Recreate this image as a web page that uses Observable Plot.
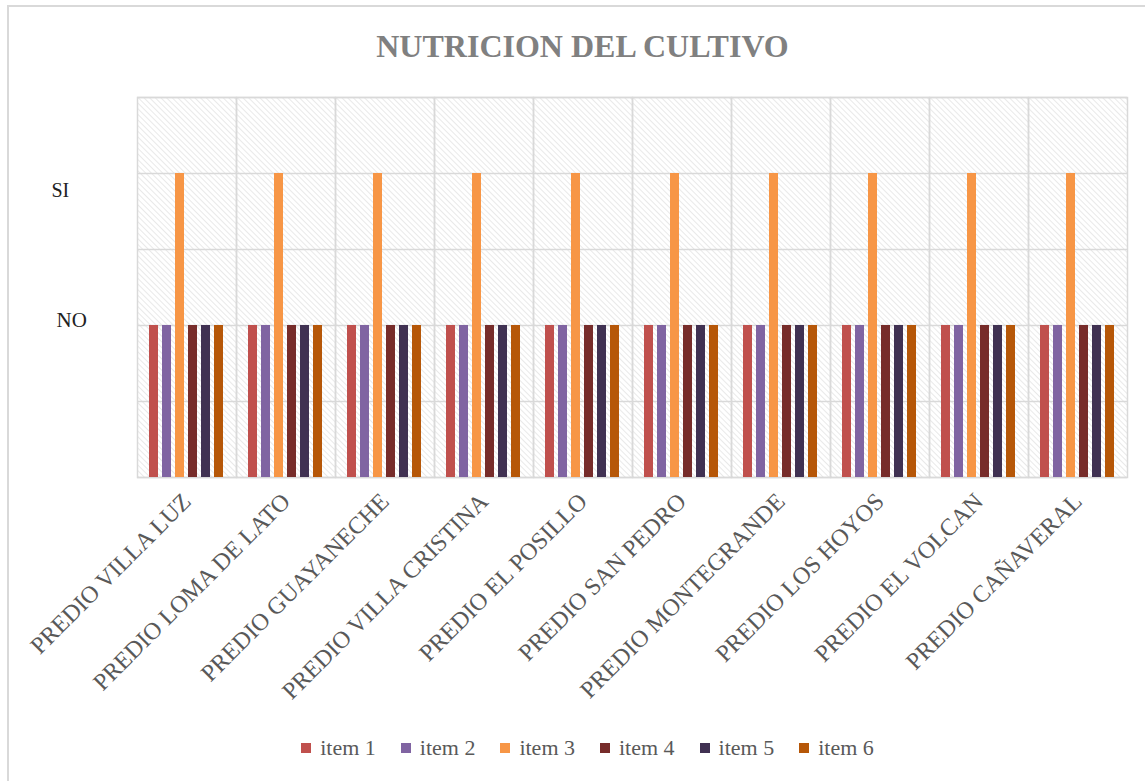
<!DOCTYPE html>
<html><head><meta charset="utf-8">
<script src="https://cdn.jsdelivr.net/npm/d3@7"></script>
<script src="https://cdn.jsdelivr.net/npm/@observablehq/plot@0.6"></script>
<style>
body{margin:0;background:#fff;font-family:"Liberation Serif",serif;overflow:hidden;}
#frame{position:absolute;left:7px;top:5px;width:1170px;height:820px;border-left:2px solid #d9d9d9;border-top:2px solid #d9d9d9;pointer-events:none;}
#wrap{position:absolute;left:0;top:0;width:1145px;}
#title{height:52px;padding-top:28px;font-family:"Liberation Serif",serif;font-size:32px;line-height:36px;font-weight:bold;color:#808080;text-align:center;padding-left:20px;box-sizing:content-box;}
#legend{height:56px;display:flex;justify-content:center;align-items:center;padding-left:30px;font-family:"Liberation Serif",serif;font-size:22px;color:#595959;}
.lg{display:flex;align-items:center;margin:0 12.5px;}
.sw{width:10px;height:10px;margin-right:9px;}
svg{display:block;}
</style></head>
<body>
<div id="wrap">
<div id="title">NUTRICION DEL CULTIVO</div>
<div id="chart"></div>
<div id="legend"></div>
</div>
<div id="frame"></div>
<script>
const categories = ["PREDIO VILLA LUZ","PREDIO LOMA DE LATO","PREDIO GUAYANECHE","PREDIO VILLA CRISTINA","PREDIO EL POSILLO","PREDIO SAN PEDRO","PREDIO MONTEGRANDE","PREDIO LOS HOYOS","PREDIO EL VOLCAN","PREDIO CAÑAVERAL"];
const items = ["item 1","item 2","item 3","item 4","item 5","item 6"];
const colors = ["#c0504d","#8064a2","#f79646","#772c2a","#403152","#b65708"];
// values per item (same for every predio): 1 = NO, 2 = SI
const item1 = [1,1,1,1,1,1,1,1,1,1];
const item2 = [1,1,1,1,1,1,1,1,1,1];
const item3 = [2,2,2,2,2,2,2,2,2,2];
const item4 = [1,1,1,1,1,1,1,1,1,1];
const item5 = [1,1,1,1,1,1,1,1,1,1];
const item6 = [1,1,1,1,1,1,1,1,1,1];
const yTicks = [0,0.5,1,1.5,2,2.5];

const series = [item1,item2,item3,item4,item5,item6];
const data = [];
categories.forEach((c,i)=>series.forEach((s,j)=>data.push({cat:c,item:items[j],value:s[i]})));

const font = '"Liberation Serif",serif';
const chart = Plot.plot({
  width:1145, height:640,
  marginTop:17, marginBottom:243, marginLeft:136, marginRight:18,
  style:{fontFamily:font, background:"transparent"},
  fx:{domain:categories, padding:0, label:null},
  x:{domain:items, paddingInner:0.3, paddingOuter:0.93, axis:null},
  y:{domain:[0,2.5], axis:null, label:null},
  color:{domain:items, range:colors},
  marks:[
    Plot.frame({fill:"url(#hatch)", stroke:"none"}),
    Plot.gridY(yTicks,{stroke:"#d9d9d9", strokeOpacity:1, strokeWidth:1.5}),
    Plot.frame({stroke:"#d9d9d9", strokeWidth:1.5}),
    Plot.barY(data,{fx:"cat", x:"item", y:"value", fill:"item"}),
    Plot.axisFx({anchor:"bottom", tickSize:0, tickRotate:-45, fontSize:24, fill:"#595959", label:null, tickPadding:20}),
    Plot.axisY([2],{tickSize:0, tickFormat:()=>"SI", textAnchor:"start", dx:-77, dy:17, fontSize:20, fill:"#222", label:null}),
    Plot.axisY([1],{tickSize:0, tickFormat:()=>"NO", textAnchor:"start", dx:-72, dy:-5, fontSize:21, fill:"#222", label:null})
  ]
});
const ns = "http://www.w3.org/2000/svg";
const defs = document.createElementNS(ns,"defs");
defs.innerHTML = '<pattern id="hatch" patternUnits="userSpaceOnUse" width="4" height="4" patternTransform="rotate(-45)"><rect width="4" height="4" fill="#fff"/><line x1="0" y1="0" x2="0" y2="4" stroke="#dedede" stroke-width="1.3"/></pattern>';
chart.insertBefore(defs, chart.firstChild);
document.getElementById("chart").appendChild(chart);

const lg = document.getElementById("legend");
items.forEach((it,i)=>{
  const d = document.createElement("div"); d.className="lg";
  d.innerHTML = `<span class="sw" style="background:${colors[i]}"></span><span>${it}</span>`;
  lg.appendChild(d);
});
</script>
</body></html>
